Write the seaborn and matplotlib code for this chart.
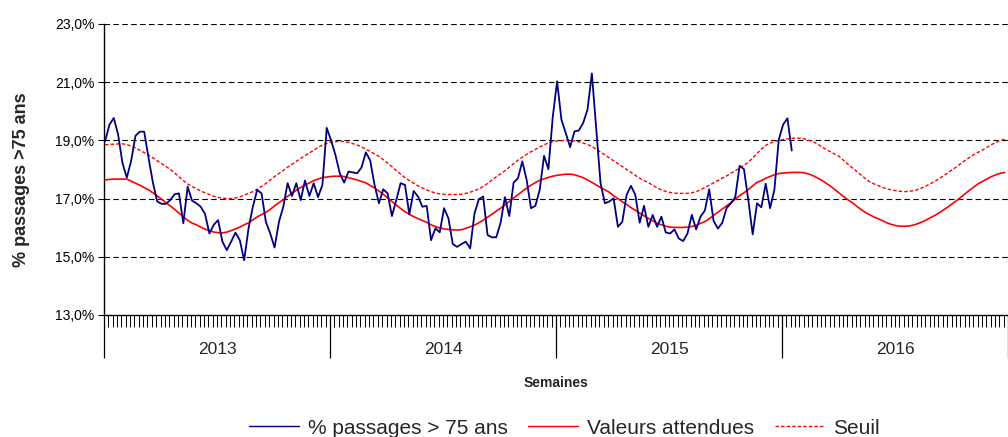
import numpy as np
import pandas as pd
import matplotlib
matplotlib.use("Agg")
import matplotlib.pyplot as plt
import matplotlib.transforms as mtransforms
from matplotlib.lines import Line2D
from matplotlib.ticker import FuncFormatter
import seaborn as sns

# Weekly share of ER visits by people over 75 (%), 2013 -> first weeks of 2016
observed = [
    # 2013
    18.97, 19.54, 19.77, 19.2, 18.22, 17.72, 18.3, 19.16, 19.3, 19.3,
    18.4, 17.55, 16.9, 16.82, 16.82, 16.95, 17.15, 17.18, 16.15, 17.41,
    16.93, 16.84, 16.72, 16.47, 15.8, 16.1, 16.26, 15.52, 15.23, 15.52,
    15.83, 15.57, 14.88, 15.97, 16.72, 17.3, 17.18, 16.2, 15.8, 15.32,
    16.2, 16.72, 17.53, 17.09, 17.53, 16.95, 17.62, 17.09, 17.53, 17.05,
    17.47, 19.43,
    # 2014
    19.0, 18.5, 17.87, 17.55, 17.93, 17.9, 17.87, 18.07, 18.59, 18.31,
    17.47, 16.84, 17.32, 17.18, 16.4, 16.95, 17.53, 17.47, 16.46, 17.26,
    17.07, 16.72, 16.75, 15.57, 15.98, 15.84, 16.67, 16.32, 15.44, 15.34,
    15.44, 15.52, 15.29, 16.49, 16.98, 17.07, 15.75, 15.67, 15.67, 16.17,
    17.05, 16.4, 17.55, 17.7, 18.28, 17.64, 16.67, 16.75, 17.3, 18.47,
    18.01, 19.8,
    # 2015
    21.03, 19.71, 19.25, 18.77, 19.31, 19.34, 19.6, 20.06, 21.3, 19.4,
    17.53, 16.84, 16.9, 17.01, 16.03, 16.2, 17.13, 17.44, 17.13, 16.17,
    16.75, 16.03, 16.44, 16.03, 16.38, 15.84, 15.8, 15.94, 15.63, 15.54,
    15.8, 16.44, 15.94, 16.38, 16.59, 17.32, 16.24, 15.97, 16.17, 16.67,
    16.84, 17.05, 18.13, 18.01, 16.95, 15.77, 16.84, 16.7, 17.51, 16.67,
    17.3, 19.02,
    # 2016
    19.54, 19.76, 18.65,
]

expected = [
    # 2013
    17.64, 17.66, 17.67, 17.67, 17.67, 17.67, 17.6, 17.53, 17.46, 17.38,
    17.3, 17.2, 17.09, 16.98, 16.86, 16.75, 16.63, 16.5, 16.38, 16.25,
    16.16, 16.1, 16.02, 15.95, 15.9, 15.85, 15.83, 15.82, 15.85, 15.9,
    15.96, 16.02, 16.1, 16.17, 16.27, 16.37, 16.45, 16.53, 16.63, 16.75,
    16.86, 16.96, 17.08, 17.18, 17.29, 17.38, 17.46, 17.54, 17.62, 17.67,
    17.72, 17.74,
    # 2014
    17.76, 17.77, 17.77, 17.76, 17.72, 17.68, 17.64, 17.59, 17.54, 17.45,
    17.37, 17.26, 17.15, 17.02, 16.9, 16.78, 16.66, 16.55, 16.46, 16.38,
    16.31, 16.25, 16.18, 16.1, 16.04, 15.99, 15.96, 15.94, 15.93, 15.92,
    15.93, 15.98, 16.03, 16.09, 16.17, 16.26, 16.36, 16.46, 16.57, 16.67,
    16.78, 16.9, 17.02, 17.13, 17.25, 17.36, 17.46, 17.55, 17.63, 17.68,
    17.73, 17.77,
    # 2015
    17.8, 17.82, 17.84, 17.84, 17.82, 17.77, 17.72, 17.64, 17.56, 17.47,
    17.38, 17.3, 17.22, 17.1, 17.0, 16.89, 16.8, 16.69, 16.6, 16.5,
    16.41, 16.32, 16.24, 16.15, 16.1, 16.05, 16.02, 16.01, 16.01, 16.01,
    16.02, 16.04, 16.08, 16.15, 16.21, 16.31, 16.42, 16.53, 16.64, 16.75,
    16.86, 16.98, 17.1, 17.2, 17.31, 17.44, 17.56, 17.62, 17.7, 17.76,
    17.82, 17.86,
    # 2016
    17.88, 17.89, 17.9, 17.9, 17.9, 17.88, 17.84, 17.78, 17.7, 17.62,
    17.52, 17.42, 17.3, 17.18, 17.06, 16.95, 16.85, 16.73, 16.62, 16.52,
    16.44, 16.36, 16.3, 16.23, 16.16, 16.11, 16.07, 16.05, 16.05, 16.06,
    16.09, 16.14, 16.2, 16.27, 16.35, 16.43, 16.52, 16.62, 16.72, 16.83,
    16.94, 17.06, 17.18, 17.3, 17.41, 17.52, 17.6, 17.68, 17.76, 17.82,
    17.87, 17.9,
]

threshold = [
    # 2013
    18.85, 18.86, 18.87, 18.88, 18.88, 18.86, 18.8, 18.74, 18.66, 18.58,
    18.5, 18.4, 18.3, 18.2, 18.1, 18.01, 17.88, 17.75, 17.62, 17.5,
    17.42, 17.34, 17.26, 17.2, 17.14, 17.08, 17.04, 17.02, 17.0, 17.0,
    17.02, 17.06, 17.12, 17.18, 17.24, 17.32, 17.42, 17.52, 17.64, 17.76,
    17.86, 17.97, 18.08, 18.18, 18.28, 18.38, 18.48, 18.57, 18.66, 18.76,
    18.84, 18.9,
    # 2014
    18.94, 18.96, 18.97, 18.96, 18.93, 18.89, 18.84, 18.78, 18.7, 18.62,
    18.54, 18.45, 18.34, 18.22, 18.1, 17.96, 17.84, 17.72, 17.62, 17.53,
    17.44, 17.36, 17.3, 17.24, 17.19, 17.16, 17.15, 17.14, 17.14, 17.14,
    17.15, 17.18, 17.22, 17.27, 17.33, 17.42, 17.52, 17.64, 17.75, 17.85,
    17.96, 18.08, 18.2, 18.32, 18.42, 18.52, 18.61, 18.69, 18.77, 18.85,
    18.91, 18.96,
    # 2015
    18.98, 18.99, 19.0, 19.0, 18.98, 18.95, 18.91, 18.86, 18.79, 18.7,
    18.6, 18.5, 18.4, 18.3, 18.2, 18.1, 18.0, 17.9, 17.8, 17.7,
    17.62, 17.55, 17.46, 17.37, 17.3, 17.25, 17.21, 17.19, 17.18, 17.18,
    17.18, 17.2, 17.24, 17.3, 17.38, 17.46, 17.54, 17.62, 17.7, 17.78,
    17.87, 17.96, 18.05, 18.14, 18.25, 18.4, 18.55, 18.7, 18.83, 18.9,
    18.96, 19.0,
    # 2016
    19.03, 19.05, 19.07, 19.08, 19.07, 19.05, 19.0, 18.95, 18.87, 18.77,
    18.68, 18.6, 18.52, 18.44, 18.3, 18.17, 18.05, 17.93, 17.8, 17.68,
    17.57, 17.5, 17.44, 17.38, 17.33, 17.3, 17.27, 17.25, 17.24, 17.25,
    17.27, 17.31, 17.37, 17.44, 17.52, 17.6, 17.7, 17.79, 17.9, 18.0,
    18.1, 18.22, 18.32, 18.43, 18.52, 18.6, 18.68, 18.77, 18.86, 18.93,
    19.0, 19.04,
]

years = ["2013", "2014", "2015", "2016"]
weeks_per_year = 52
y_ticks = [13, 15, 17, 19, 21, 23]
labels = ["% passages > 75 ans", "Valeurs attendues", "Seuil"]

# Build frames (week index, slightly shifted inside each week slot)
n_weeks = weeks_per_year * len(years)
df_ref = pd.DataFrame({"week": np.arange(n_weeks) + 0.25,
                       "expected": expected,
                       "threshold": threshold})
df_obs = pd.DataFrame({"week": np.arange(len(observed)) + 0.25,
                       "observed": observed})

sns.set_style("white")
plt.rcParams["font.family"] = ["Liberation Sans", "DejaVu Sans"]

fig = plt.figure(figsize=(10.08, 4.37), dpi=100)
ax = fig.add_axes([104 / 1008, 1 - 315 / 437, 1 - 104 / 1008, (315 - 24) / 437])

# Grid lines (not on the bottom axis)
for v in y_ticks[1:]:
    ax.axhline(v, color="black", lw=0.8, ls=(0, (5, 3)), zorder=1)

sns.lineplot(data=df_ref, x="week", y="threshold", ax=ax, color="#ff0000",
             lw=1.0, linestyle=(0, (2.5, 1.5)), zorder=3)
sns.lineplot(data=df_ref, x="week", y="expected", ax=ax, color="#ff0000",
             lw=1.2, zorder=3)
sns.lineplot(data=df_obs, x="week", y="observed", ax=ax, color="#000080",
             lw=1.3, zorder=4)

ax.set_xlim(0, n_weeks)
ax.set_ylim(13, 23)
ax.set_xlabel("")
ax.set_ylabel("")

# Y axis
ax.set_yticks(y_ticks)
ax.yaxis.set_major_formatter(FuncFormatter(lambda v, p: f"{v:.1f}%".replace(".", ",")))
ax.tick_params(axis="y", direction="out", length=4, width=0.8, labelsize=10,
               left=True, pad=3, colors="black")

# X axis: long ticks at year boundaries, short weekly ticks
ax.set_xticks(np.arange(0, n_weeks + 1, weeks_per_year))
ax.set_xticklabels([])
ax.set_xticks(np.arange(0, n_weeks + 1), minor=True)
ax.tick_params(axis="x", which="major", direction="out", length=31, width=0.9,
               bottom=True, colors="black")
ax.tick_params(axis="x", which="minor", direction="out", length=8.5, width=0.7,
               bottom=True, colors="black")

trans = mtransforms.blended_transform_factory(ax.transData, ax.transAxes)
for i, y in enumerate(years):
    ax.text(i * weeks_per_year + weeks_per_year / 2, -35 / 291, y, transform=trans,
            ha="center", va="center", fontsize=12.5)

for s in ["top", "right"]:
    ax.spines[s].set_visible(False)
for s in ["left", "bottom"]:
    ax.spines[s].set_color("black")
    ax.spines[s].set_linewidth(1.0)

fig.text(0.021, 1 - 180 / 437, "% passages >75 ans", rotation=90, ha="center",
         va="center", fontsize=13, fontweight="bold")
fig.text(0.552, 1 - 383 / 437, "Semaines", ha="center", va="center",
         fontsize=10, fontweight="bold")

handles = [
    Line2D([], [], color="#000080", lw=1.0),
    Line2D([], [], color="#ff0000", lw=1.0),
    Line2D([], [], color="#ff0000", lw=1.0, ls=(0, (2.5, 1.5))),
]
fig.legend(handles, labels, loc="center", bbox_to_anchor=(0.56, 1 - 428 / 437),
           ncol=3, frameon=False, fontsize=15, handlelength=2.4,
           handletextpad=0.4, columnspacing=1.0, borderaxespad=0)

fig.savefig("out.png", dpi=100)
